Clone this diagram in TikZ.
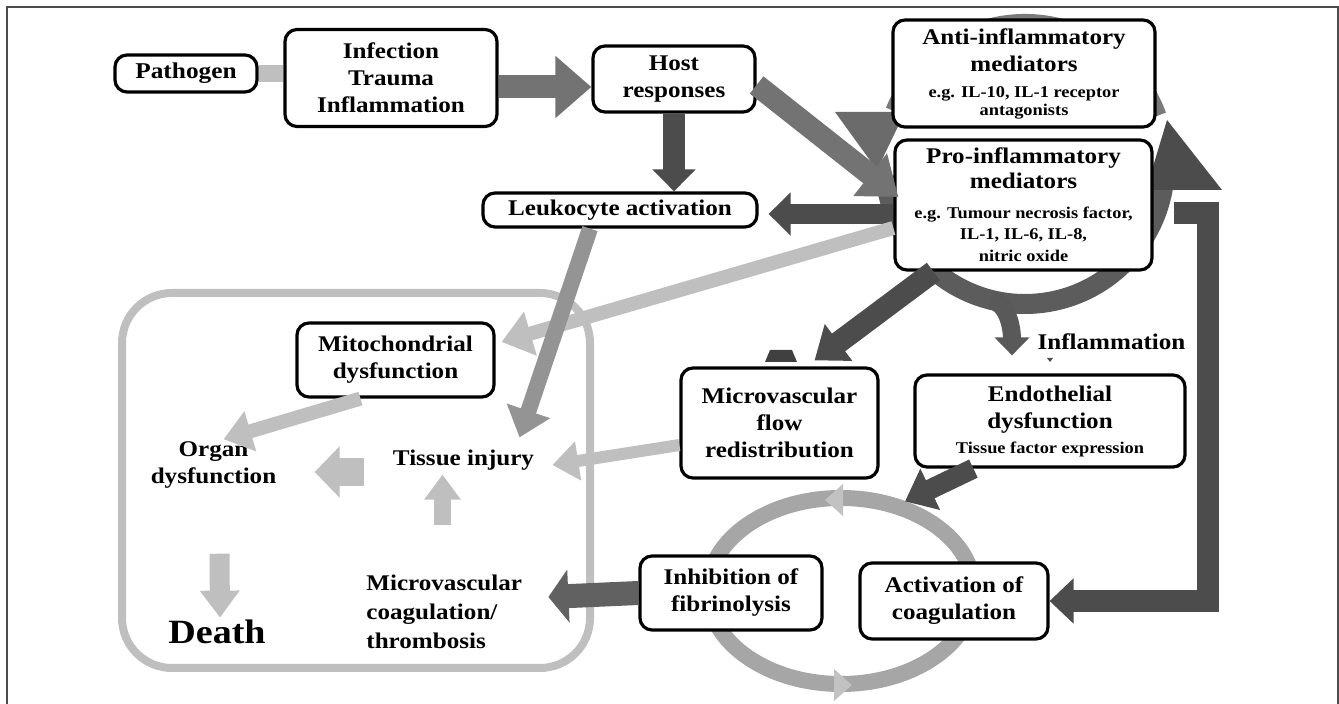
\documentclass[tikz,border=0pt]{standalone}
\usepackage{fontspec}
\setmainfont{Liberation Serif}[FakeStretch=1.12]
\usetikzlibrary{arrows.meta,calc,positioning}
\colorlet{darkg}{black!70}
\colorlet{midg}{black!55}
\colorlet{lightg}{black!25}
\newcommand{\smalltxt}{\fontsize{8.2}{10.5}\selectfont}
\newcommand{\fsz}[1]{\bfseries\fontsize{#1}{13.5}\selectfont}

\begin{document}
\begin{tikzpicture}[x=0.5pt, y=-0.5pt]
	\tikzstyle{every node}=[inner sep=1pt, align=center, font=\fsz{11.2}]
	\tikzstyle{box}=[draw, line width=1.6pt, rounded corners=6pt, fill=white]
	\useasboundingbox (0,0) rectangle (1339,704);
	\draw[black!70, line width=0.8pt] (7,704) -- (7,7) -- (1338,7) -- (1338,704);
	% loops in the background
	\coordinate (mc) at (1025,164);
	\coordinate (ec) at (841,591);
	\draw[lightg, line width=4pt, rounded corners=25pt] (122,293) rectangle (590,668);
	\draw[black!35, line width=8pt] (ec) ellipse [x radius=133, y radius=93];
	\fill[black!24] (843,484) -- (843,516) -- (825,500) -- cycle;
	\fill[black!24] (834,669) -- (834,701) -- (852,685) -- cycle;
	\draw[black!52, line width=10pt] (mc) ++(-20:140) arc[start angle=-20, end angle=-158, radius=140];
	\draw[black!64, line width=10pt] (mc) ++(-185:140) arc[start angle=-185, end angle=-350, radius=140];
	\fill[black!58] (835,112) -- (905,112) -- (877,170) -- cycle;
	\fill[darkg] (1146,190) -- (1222,190) -- (1167,120) -- cycle;
	% boxes
	\node[box, minimum width=71pt, minimum height=18.5pt, font=\fsz{11.3}] (pathogen) at (186,73.5) {Pathogen};
	\node[box, minimum width=106pt, minimum height=48.5pt] (infection) at (391,78) {Infection\\Trauma\\Inflammation};
	\node[box, minimum width=81pt, minimum height=33pt] (host) at (674,79) {Host\\responses};
	\node[box, minimum width=131pt, minimum height=53.5pt] (anti) at (1024,73.5) {Anti-inflammatory\\mediators\\[-0.5pt]\smalltxt e.g. IL-10, IL-1 receptor\\[-4.5pt]\smalltxt antagonists};
	\node[box, minimum width=128.5pt, minimum height=65pt] (pro) at (1023.5,205) {Pro-inflammatory\\[-1pt]mediators\\[1.5pt]\smalltxt e.g. Tumour necrosis factor,\\[-3pt]\smalltxt IL-1, IL-6, IL-8,\\[-2.5pt]\smalltxt nitric oxide};
	\node[box, minimum width=137pt, minimum height=17pt] (leuko) at (620,210) {Leukocyte activation};
	\node[box, minimum width=98.5pt, minimum height=37pt] (mito) at (395.5,360) {Mitochondrial\\dysfunction};
	\node[box, minimum width=98.5pt, minimum height=55pt] (flow) at (779.5,423) {Microvascular\\flow\\redistribution};
	\node[box, minimum width=135pt, minimum height=46pt] (endo) at (1050,421) {Endothelial\\dysfunction\\[-1pt]\smalltxt Tissue factor expression};
	\node[box, minimum width=91pt, minimum height=37pt] (inhib) at (731,593) {Inhibition of\\fibrinolysis};
	\node[box, minimum width=94pt, minimum height=38pt] (activ) at (954,601) {Activation of\\coagulation};
	\node (inflam) at (1111.5,342) {Inflammation};
	\node (organ) at (213.5,465) {Organ\\dysfunction};
	\node (tissue) at (463.5,460) {Tissue injury};
	\node[font=\bfseries\fontsize{17}{20}\selectfont] (death) at (217,632) {Death};
	\node[align=left, anchor=west, font=\bfseries\fontsize{11.2}{14.5}\selectfont] (coag) at (364,612) {Microvascular\\coagulation/\\thrombosis};
	% arrows
	\draw[lightg, line width=8.5pt] (pathogen.east) -- (pathogen.east -| infection.west);
	\draw[midg, line width=11.5pt, -{Triangle[length=18pt, width=30pt]}] ($(infection.east)+(0,9)$) -- ($(host.west)+(0,8)$);
	\draw[darkg, line width=11pt, -{Triangle[length=11pt, width=21pt]}] (host.south) -- (host.south |- leuko.north);
	\draw[midg, line width=11pt, -{Triangle[length=18pt, width=26pt]}] ($(host.east)+(0,6)$) -- ($(pro.west)+(5,-8)$);
	\draw[darkg, line width=10pt, -{Triangle[length=11pt, width=21pt]}] ($(pro.west)+(0,9)$) -- ($(leuko.east)+(10,4)$);
	\draw[lightg, line width=7pt, -{Triangle[length=15pt, width=22pt]}] ($(pro.west)+(0,23)$) -- ($(mito.east)+(6,-18)$);
	\draw[black!42, line width=8pt, -{Triangle[length=14pt, width=22pt]}] ($(leuko.south)+(-30,0)$) -- ($(tissue.north)+(56,-10)$);
	\draw[darkg, line width=11pt, -{Triangle[length=15pt, width=22pt]}] ($(pro.south west)+(40,0)$) -- ($(flow.north)+(35,-6)$);
	\draw[darkg, line width=11pt, -{Triangle[length=12pt, width=22pt]}] ($(pro.east)+(20,8)$) -- ++(34,0) |- (activ.east);
	\draw[darkg, line width=10pt, -{Triangle[length=14pt, width=22pt]}] ($(endo.south west)+(60,0)$) -- ($(activ.north)+(-49,-60)$);
	\draw[black!65, line width=9pt, -{Triangle[length=9pt, width=17pt]}] ($(mc)+(-35,136)$) .. controls +(20,3) and +(0,-22) .. ($(endo.north)+(-38,-18)$);
	\draw[black!62, line width=12pt, -{Triangle[length=10pt, width=26pt]}] (inhib.west) -- ($(coag.east)+(24,-15)$);
	\draw[lightg, line width=6pt, -{Triangle[length=13pt, width=19pt]}] ($(flow.west)+(0,22)$) -- ($(tissue.east)+(16,5)$);
	\draw[lightg, line width=7pt, -{Triangle[length=14pt, width=20pt]}] ($(mito.south)+(-35,0)$) -- ($(organ.north)+(10,0)$);
	\draw[lightg, line width=14pt, -{Triangle[length=12.5pt, width=25pt]}] ($(tissue.west)+(-27,12)$) -- ($(organ.east)+(36,7)$);
	\draw[lightg, line width=8.5pt, -{Triangle[length=12.5pt, width=17.5pt]}] ($(tissue.south |- coag.north)+(-21,-48)$) -- ($(tissue.south)+(-21,2)$);
	\draw[lightg, line width=10pt, -{Triangle[length=13.5pt, width=19pt]}] ($(organ.south)+(6,63)$) -- ($(death.north)+(3,0)$);
	% small marks
	\fill[black!75] (765,362) -- (770,350) -- (792,350) -- (797,362) -- cycle;
	\fill[darkg] (1047,358) -- (1053,358) -- (1050,362) -- cycle;
\end{tikzpicture}
\end{document}
